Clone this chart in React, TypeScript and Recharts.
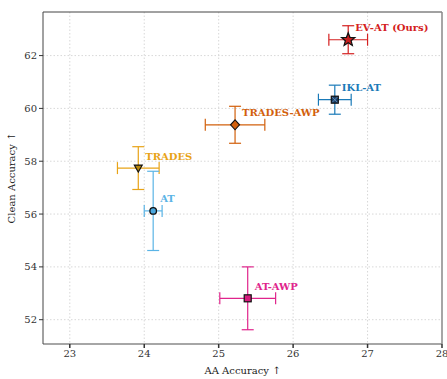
import React from 'react';
import { ScatterChart, Scatter, XAxis, YAxis, CartesianGrid, ErrorBar, ReferenceLine } from 'recharts';

const methods = ['EV-AT (Ours)', 'IKL-AT', 'TRADES-AWP', 'TRADES', 'AT', 'AT-AWP'];
const aaAcc = [26.74, 26.56, 25.22, 23.92, 24.12, 25.39];
const cleanAcc = [62.6, 60.33, 59.38, 57.74, 56.12, 52.81];
const aaErr = [0.26, 0.22, 0.4, 0.28, 0.12, 0.375];
const cleanErr = [0.53, 0.55, 0.7, 0.81, 1.5, 1.19];
const xTicks = [23, 24, 25, 26, 27, 28];
const yTicks = [52, 54, 56, 58, 60, 62];

const COLORS = ['#d42020', '#1a7ab8', '#d2600c', '#e8a317', '#5ab4e6', '#e0248c'];
const FILLS = ['#c81e1e', '#1d3f66', '#d2600c', '#b8860b', '#4aa8e0', '#d81b7e'];
const KINDS = ['star', 'xsquare', 'diamond', 'tridown', 'circle', 'square'];
const FONT = '"DejaVu Serif", serif';

const makeShape = (i: number) => (props: any) => {
  const { cx, cy } = props;
  const fill = FILLS[i];
  const kind = KINDS[i];
  let marker: React.ReactNode = null;
  if (kind === 'star') {
    const pts: string[] = [];
    for (let k = 0; k < 10; k++) {
      const r = k % 2 === 0 ? 7 : 3;
      const a = -Math.PI / 2 + (k * Math.PI) / 5;
      pts.push(`${cx + r * Math.cos(a)},${cy + r * Math.sin(a)}`);
    }
    marker = <polygon points={pts.join(' ')} fill={fill} stroke="#111" strokeWidth={1.2} />;
  } else if (kind === 'xsquare') {
    marker = (
      <g>
        <rect x={cx - 3.5} y={cy - 3.5} width={7} height={7} fill={fill} stroke="#111" strokeWidth={1.2} />
        <line x1={cx - 2.5} y1={cy - 2.5} x2={cx + 2.5} y2={cy + 2.5} stroke="#6aa0d0" strokeWidth={0.8} />
        <line x1={cx - 2.5} y1={cy + 2.5} x2={cx + 2.5} y2={cy - 2.5} stroke="#6aa0d0" strokeWidth={0.8} />
      </g>
    );
  } else if (kind === 'diamond') {
    marker = (
      <polygon
        points={`${cx},${cy - 5} ${cx + 4.5},${cy} ${cx},${cy + 5} ${cx - 4.5},${cy}`}
        fill={fill}
        stroke="#111"
        strokeWidth={1.1}
      />
    );
  } else if (kind === 'tridown') {
    marker = (
      <polygon
        points={`${cx - 4},${cy - 3} ${cx + 4},${cy - 3} ${cx},${cy + 4}`}
        fill={fill}
        stroke="#111"
        strokeWidth={1.1}
      />
    );
  } else if (kind === 'circle') {
    marker = <circle cx={cx} cy={cy} r={3.3} fill={fill} stroke="#111" strokeWidth={1.3} />;
  } else {
    marker = <rect x={cx - 3.5} y={cy - 3.5} width={7} height={7} fill={fill} stroke="#111" strokeWidth={1.2} />;
  }
  return (
    <g>
      {marker}
      <text
        x={cx + 7}
        y={cy - 12}
        dominantBaseline="central"
        fill={COLORS[i]}
        fontFamily={FONT}
        fontWeight="bold"
        fontSize={10}
      >
        {methods[i]}
      </text>
    </g>
  );
};

const series = methods.map((m, i) => [
  { name: m, aa: aaAcc[i], clean: cleanAcc[i], xe: aaErr[i], ye: cleanErr[i] },
]);

export default function App() {
  return (
    <div style={{ position: 'absolute', left: 0, top: 0, background: '#fff' }}>
      <ScatterChart width={447} height={379} margin={{ top: 12, right: 5, bottom: 0, left: 0 }}>
        <CartesianGrid stroke="#d8d8d8" strokeDasharray="1.5 2" verticalValues={[23, 24, 25, 26, 27]} horizontalValues={yTicks} />
        <XAxis
          type="number"
          dataKey="aa"
          domain={[22.64, 28]}
          ticks={xTicks}
          allowDataOverflow
          height={35}
          tickSize={4}
          stroke="#888"
          strokeWidth={1.5}
          tick={{ fill: '#333', fontSize: 10, fontFamily: FONT }}
          tickLine={{ stroke: '#333' }}
          label={{ value: 'AA Accuracy ↑', position: 'center', dy: 9, fill: '#222', fontSize: 10, fontFamily: FONT }}
        />
        <YAxis
          type="number"
          dataKey="clean"
          domain={[51.08, 63.65]}
          ticks={yTicks}
          allowDataOverflow
          width={43}
          tickSize={4}
          stroke="#444"
          tick={{ fill: '#333', fontSize: 10, fontFamily: FONT }}
          tickLine={{ stroke: '#333' }}
          label={{ value: 'Clean Accuracy ↑', angle: -90, position: 'center', dx: -10, fill: '#222', fontSize: 10, fontFamily: FONT }}
        />
        <ReferenceLine y={63.65} stroke="#444" strokeWidth={1} />
        <ReferenceLine x={28} stroke="#888" strokeWidth={1.5} />
        {series.map((d, i) => (
          <Scatter key={methods[i]} data={d} isAnimationActive={false} shape={makeShape(i)}>
            <ErrorBar dataKey="xe" direction="x" width={6} stroke={COLORS[i]} strokeWidth={1.2} />
            <ErrorBar dataKey="ye" direction="y" width={6} stroke={COLORS[i]} strokeWidth={1.2} />
          </Scatter>
        ))}
      </ScatterChart>
    </div>
  );
}
